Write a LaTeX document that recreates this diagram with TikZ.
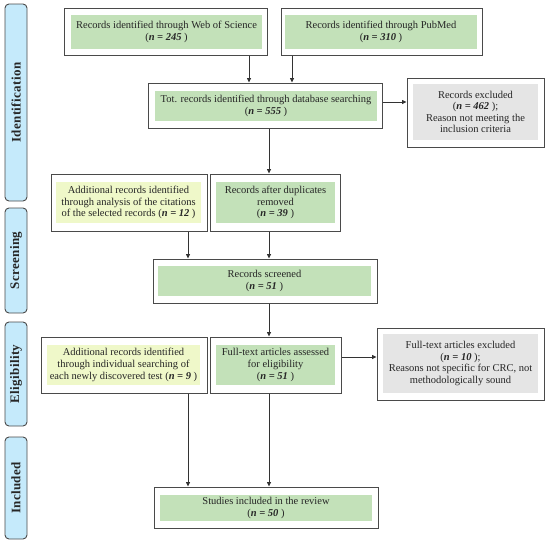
\documentclass[tikz,border=0pt]{standalone}
\usepackage{fontspec}
\setmainfont{Liberation Serif}
\newfontfamily\sidefont[LetterSpace=3]{Liberation Serif}
\usetikzlibrary{arrows.meta}
\definecolor{gfill}{HTML}{C3E1B9}
\definecolor{yfill}{HTML}{EFF8C9}
\definecolor{kfill}{HTML}{E5E5E5}
\definecolor{bfill}{HTML}{C5EAFB}
\definecolor{edge}{HTML}{4A4A4A}
\tikzset{
  outer/.style={draw=edge, line width=1pt, fill=white, inner sep=0pt},
  innerbox/.style={inner sep=0pt, align=center, font=\fontsize{10.5}{11.6}\selectfont, text=black!85},
  side/.style={draw=edge, line width=0.9pt, fill=bfill, rounded corners=4pt, inner sep=0pt},
  sidetext/.style={rotate=90, font=\sidefont\fontsize{13}{14}\selectfont\bfseries, text=black!85},
  arr/.style={draw=black!80, line width=0.8pt, -{Triangle[length=4.5pt,width=4pt]}}
}
\newcommand\nn[1]{({\bfseries\itshape n = #1} )}
\begin{document}
\begin{tikzpicture}[x=1pt,y=-1pt]
\useasboundingbox (0,0) rectangle (550,549);
% side bars
\node[side, minimum width=22, minimum height=197] (sid) at (16,102.5) {};
\node[sidetext] (sidT) at (sid) {Identification};
\node[side, minimum width=22, minimum height=105] (sscr) at (16,260.5) {};
\node[sidetext] (sscrT) at (sscr) {Screening};
\node[side, minimum width=22, minimum height=104] (seli) at (16,374) {};
\node[sidetext] (seliT) at (seli) {Eligibility};
\node[side, minimum width=22, minimum height=102] (sinc) at (16,488) {};
\node[sidetext] (sincT) at (sinc) {Included};
% boxes
\node[outer, minimum width=203, minimum height=47] (wos) at (165.5,31.5) {};
\node[innerbox, fill=gfill, minimum width=191, minimum height=34] (wosT) at (166.5,32)
  {Records identified through Web of Science\\\nn{245}};
\node[outer, minimum width=201, minimum height=47] (pub) at (381.5,31.5) {};
\node[innerbox, fill=gfill, minimum width=192, minimum height=34] (pubT) at (381,32)
  {Records identified through PubMed\\\nn{310}};
\node[outer, minimum width=234, minimum height=45] (tot) at (265,105.5) {};
\node[innerbox, fill=gfill, minimum width=222, minimum height=30] (totT) at (266,106)
  {Tot. records identified through database searching\\\nn{555}};
\node[outer, minimum width=137, minimum height=69] (ex1) at (475.5,112.5) {};
\node[innerbox, fill=kfill, minimum width=125, minimum height=56] (ex1T) at (475.5,112)
  {Records excluded\\({\bfseries\itshape n = 462} );\\Reason not meeting the\\inclusion criteria};
\node[outer, minimum width=156, minimum height=57] (add1) at (129,202.5) {};
\node[innerbox, fill=yfill, minimum width=145, minimum height=41] (add1T) at (128.5,202.5)
  {Additional records identified\\through analysis of the citations\\of the selected records \nn{12}};
\node[outer, minimum width=130, minimum height=57] (dup) at (275,202.5) {};
\node[innerbox, fill=gfill, minimum width=119, minimum height=41] (dupT) at (275.5,202.5)
  {Records after duplicates\\removed\\\nn{39}};
\node[outer, minimum width=224, minimum height=44] (scr) at (265,281) {};
\node[innerbox, fill=gfill, minimum width=213, minimum height=30] (scrT) at (264.5,281)
  {Records screened\\\nn{51}};
\node[outer, minimum width=166, minimum height=56] (add2) at (124,365) {};
\node[innerbox, fill=yfill, minimum width=153, minimum height=40] (add2T) at (123.5,365)
  {Additional records identified\\through individual searching of\\each newly discovered test \nn{9}};
\node[outer, minimum width=131, minimum height=56] (ft) at (275.5,365) {};
\node[innerbox, fill=gfill, minimum width=119, minimum height=40] (ftT) at (275.5,365)
  {Full-text articles assessed\\for eligibility\\\nn{51}};
\node[outer, minimum width=167, minimum height=72] (ex2) at (460.5,364) {};
\node[innerbox, fill=kfill, minimum width=155, minimum height=59] (ex2T) at (460.5,363.5)
  {Full-text articles excluded\\({\bfseries\itshape n = 10} );\\Reasons not specific for CRC, not\\methodologically sound};
\node[outer, minimum width=224, minimum height=41] (fin) at (266,507.5) {};
\node[innerbox, fill=gfill, minimum width=212, minimum height=26] (finT) at (266,508)
  {Studies included in the review\\\nn{50}};
% connector x positions
\coordinate (xa) at (249,0);
\coordinate (xb) at (292,0);
\coordinate (xc) at (269,0);
\coordinate (xd) at (188,0);
\coordinate (ya) at (0,102);
\coordinate (yb) at (0,357);
\draw[arr] (xa |- wos.south) -- (xa |- tot.north);
\draw[arr] (xb |- pub.south) -- (xb |- tot.north);
\draw[arr] (tot.east |- ya) -- (ex1.west |- ya);
\draw[arr] (xc |- tot.south) -- (xc |- dup.north);
\draw[arr] (xd |- add1.south) -- (xd |- scr.north);
\draw[arr] (xc |- dup.south) -- (xc |- scr.north);
\draw[arr] (xc |- scr.south) -- (xc |- ft.north);
\draw[arr] (ft.east |- yb) -- (ex2.west |- yb);
\draw[arr] (xd |- add2.south) -- (xd |- fin.north);
\draw[arr] (xc |- ft.south) -- (xc |- fin.north);
\end{tikzpicture}
\end{document}
